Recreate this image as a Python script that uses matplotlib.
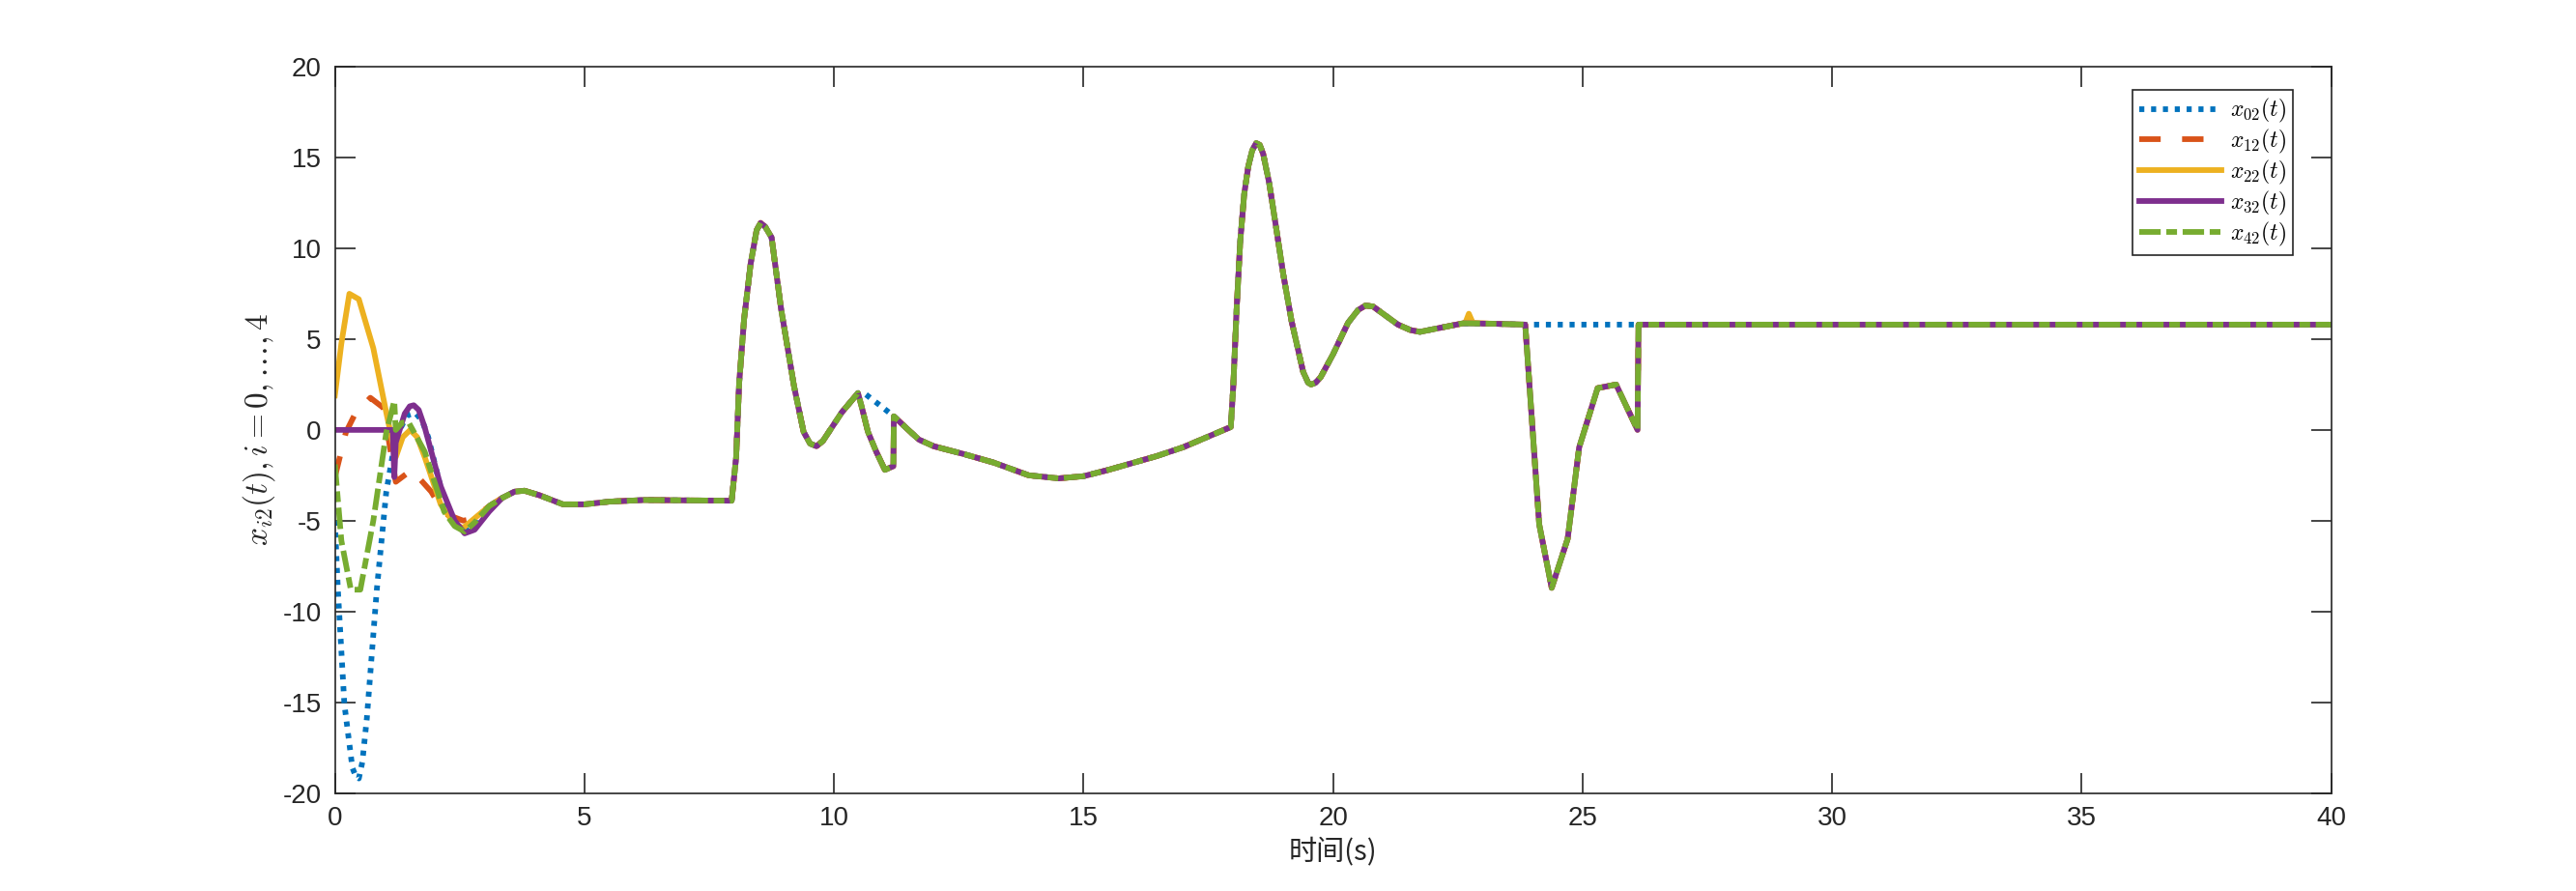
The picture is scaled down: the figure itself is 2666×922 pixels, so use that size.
import numpy as np
import matplotlib
matplotlib.use("Agg")
import matplotlib.pyplot as plt

plt.rcParams['font.family'] = ['Liberation Sans', 'DejaVu Sans']
plt.rcParams['mathtext.fontset'] = 'cm'
plt.rcParams['axes.unicode_minus'] = False

# early transients (t, value) for each agent
t02_head = [0, 0.06, 0.19, 0.35, 0.42, 0.48, 0.55, 0.64, 0.84, 1.03, 1.22, 1.45, 1.61, 1.75, 1.87, 2.19, 2.45, 2.6, 2.8, 3.09]
y02_head = [-5.0, -8.8, -15.1, -18.6, -19.1, -19.2, -18.3, -15.9, -8.8, -3.4, -0.4, 0.8, 0.95, 0.5, -0.4, -3.95, -5.3, -5.6, -5.1, -4.2]
t12_head = [0, 0.22, 0.39, 0.71, 0.97, 1.22, 1.54, 1.93, 2.19, 2.57, 2.77, 3.09]
y12_head = [-2.6, -0.14, 0.8, 1.77, 1.22, -2.86, -2.2, -3.4, -4.6, -5.0, -4.9, -4.2]
t22_head = [0, 0.13, 0.29, 0.48, 0.77, 1.03, 1.22, 1.36, 1.51, 1.65, 1.8, 2.12, 2.4, 2.57, 2.96]
y22_head = [1.9, 4.76, 7.5, 7.2, 4.5, 0.95, -1.5, -0.4, 0.0, -0.4, -1.5, -4.1, -5.2, -5.4, -4.5]
t32_head = [0, 1.16, 1.19, 1.22, 1.4, 1.5, 1.58, 1.68, 1.8, 2.12, 2.4, 2.6, 2.8, 3.09]
y32_head = [0, 0, -2.6, -0.7, 0.9, 1.3, 1.36, 1.1, 0.14, -3.1, -5.0, -5.7, -5.5, -4.5]
t42_head = [0, 0.13, 0.32, 0.51, 0.77, 1.03, 1.19, 1.22, 1.35, 1.48, 1.8, 2.19, 2.4, 2.6, 2.8, 3.09]
y42_head = [-1.9, -6.1, -8.8, -8.8, -5.0, -0.14, 1.6, 0.0, 0.4, 0.4, -1.2, -4.5, -5.3, -5.6, -5.1, -4.2]

# shared trajectory after the transient
t_mid1 = [3.35, 3.6, 3.8, 4.1, 4.57, 5.0, 5.5, 6.2, 7.0, 7.95, 8.04, 8.1, 8.2, 8.33, 8.45, 8.53,
          8.62, 8.75, 8.94, 9.2, 9.39, 9.52, 9.65, 9.78, 9.9, 10.16, 10.35, 10.48]
y_mid1 = [-3.75, -3.4, -3.35, -3.6, -4.1, -4.1, -3.95, -3.86, -3.88, -3.9, -1.5, 2.58, 6.13, 9.15, 11.0, 11.4,
          11.2, 10.6, 6.67, 2.4, -0.1, -0.75, -0.9, -0.6, -0.1, 0.98, 1.6, 2.03]
t_dip1 = [10.55, 10.68, 10.84, 11.02, 11.19]
y_dip1 = [1.33, -0.1, -1.16, -2.2, -2.0]
t_lead1 = [10.64, 10.9]
y_lead1 = [1.95, 1.4]
t_mid2 = [11.2, 11.45, 11.7, 12.0, 12.6, 13.2, 13.9, 14.5, 15.0, 15.5, 16.47, 17.0, 17.95,
          18.0, 18.07, 18.14, 18.22, 18.3, 18.38, 18.46, 18.53, 18.6, 18.72, 18.85, 19.0, 19.17,
          19.4, 19.5, 19.56, 19.65, 19.75, 20.0, 20.3, 20.5, 20.65, 20.8, 20.9, 21.1, 21.3,
          21.55, 21.74, 22.1, 22.6, 23.2, 23.85]
y_mid2 = [0.75, 0.1, -0.53, -0.9, -1.33, -1.8, -2.5, -2.67, -2.55, -2.2, -1.44, -0.95, 0.16,
          2.4, 6.8, 10.4, 13.0, 14.5, 15.4, 15.8, 15.7, 15.2, 13.6, 11.3, 8.6, 5.97,
          3.2, 2.6, 2.5, 2.6, 2.9, 4.17, 5.9, 6.6, 6.85, 6.8, 6.6, 6.2, 5.8,
          5.5, 5.4, 5.6, 5.87, 5.85, 5.8]
t_dip2 = [24.13, 24.38, 24.7, 24.93, 25.3, 25.67, 26.1]
y_dip2 = [-5.2, -8.7, -6.0, -0.97, 2.3, 2.5, 0.0]
t_end = [26.12, 40.0]
y_end = [5.8, 5.8]
t_spike22 = [22.65, 22.72, 22.8]
y_spike22 = [5.9, 6.4, 5.9]

labels = [r'$x_{02}(t)$', r'$x_{12}(t)$', r'$x_{22}(t)$', r'$x_{32}(t)$', r'$x_{42}(t)$']
colors = ['#0072BD', '#D95319', '#EDB120', '#7E2F8E', '#77AC30']
styles = [(0, (0.9, 1.2)), (0, (3.8, 3.8)), '-', '-', (0, (3.8, 1.0, 1.9, 1.0))]


def build(th, yh, leader=False, spike=False):
    t = list(th) + t_mid1
    y = list(yh) + y_mid1
    if leader:
        t += t_lead1
        y += y_lead1
    else:
        t += t_dip1
        y += y_dip1
    tm, ym = list(t_mid2), list(y_mid2)
    if spike:
        k = [i for i, v in enumerate(tm) if v > 22.6][0]
        tm = tm[:k] + t_spike22 + tm[k:]
        ym = ym[:k] + y_spike22 + ym[k:]
    t += tm
    y += ym
    if not leader:
        t += t_dip2
        y += y_dip2
    t += t_end
    y += y_end
    return np.array(t), np.array(y)


heads = [(t02_head, y02_head), (t12_head, y12_head), (t22_head, y22_head),
         (t32_head, y32_head), (t42_head, y42_head)]

fig = plt.figure(figsize=(26.66, 9.22), dpi=100)
ax = fig.add_axes([0.13, 0.11, 0.775, 0.815])
for i, (th, yh) in enumerate(heads):
    t, y = build(th, yh, leader=(i == 0), spike=(i == 2))
    ax.plot(t, y, color=colors[i], linestyle=styles[i], lw=4.2, label=labels[i],
            solid_joinstyle='round')

ax.set_xlim(0, 40)
ax.set_ylim(-20, 20)
ax.set_xticks(np.arange(0, 41, 5))
ax.set_yticks(np.arange(-20, 21, 5))
ax.tick_params(direction='in', length=15, width=1.2, top=True, right=True,
               labelsize=20, colors='#262626', pad=10)
for s in ax.spines.values():
    s.set_color('#262626')
    s.set_linewidth(1.2)

ax.set_xlabel('时间(s)', fontsize=21, family=['Noto Sans CJK SC', 'DejaVu Sans'],
              color='#262626', labelpad=4)
ax.set_ylabel(r'$x_{i2}(t), i=0,\ldots,4$', fontsize=24, color='#262626', labelpad=4)

leg = ax.legend(loc='upper right', bbox_to_anchor=(0.981, 0.968), borderaxespad=0,
                fontsize=17, handlelength=3.6, fancybox=False, framealpha=1,
                edgecolor='#262626', labelspacing=0.12, borderpad=0.3, handletextpad=0.4)
leg.get_frame().set_linewidth(1.2)

fig.savefig('out.png', dpi=100)
